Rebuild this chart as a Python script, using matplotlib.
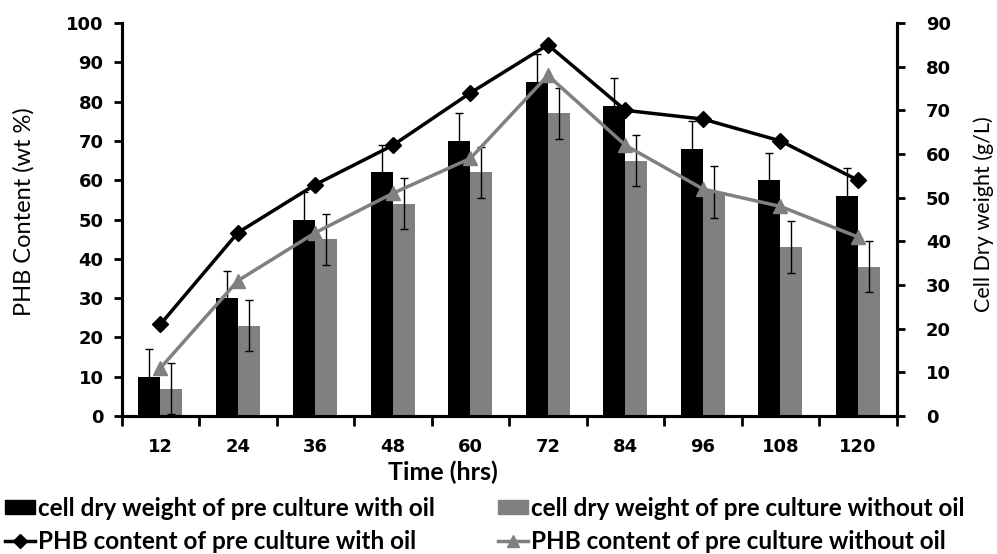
import numpy as np
import matplotlib
matplotlib.use("Agg")
import matplotlib.pyplot as plt
from matplotlib.ticker import MultipleLocator, FixedLocator

# data
hours = ["12", "24", "36", "48", "60", "72", "84", "96", "108", "120"]
cdw_oil = [10, 30, 50, 62, 70, 85, 79, 68, 60, 56]
cdw_no_oil = [7, 23, 45, 54, 62, 77, 65, 57, 43, 38]
err_oil = [7, 7, 7, 7, 7, 7, 7, 7, 7, 7]
err_no_oil = [6.5, 6.5, 6.5, 6.5, 6.5, 6.5, 6.5, 6.5, 6.5, 6.5]
phb_oil = [21, 42, 53, 62, 74, 85, 70, 68, 63, 54]
phb_no_oil = [11, 31, 42, 51, 59, 78, 62, 52, 48, 41]

grey = "#808080"
label_font = "Lato"

fig = plt.figure(figsize=(9.97, 5.54), dpi=100)
ax = fig.add_axes([0.122, 0.249, 0.7774, 0.7095])
ax2 = ax.twinx()

x = np.arange(len(hours))
w = 0.284
ax.bar(x - w / 2, cdw_oil, w, color="black", zorder=2)
ax.bar(x + w / 2, cdw_no_oil, w, color=grey, zorder=2)
ax.errorbar(x - w / 2, cdw_oil, yerr=err_oil, fmt="none", ecolor="black",
            elinewidth=1, capsize=3, capthick=1, zorder=3)
ax.errorbar(x + w / 2, cdw_no_oil, yerr=err_no_oil, fmt="none", ecolor="black",
            elinewidth=1, capsize=3, capthick=1, zorder=3)

ax2.plot(x, phb_oil, color="black", lw=2.5, marker="D", ms=8, zorder=4)
ax2.plot(x, phb_no_oil, color=grey, lw=2.5, marker="^", ms=10, zorder=4)

ax.set_xlim(-0.5, len(hours) - 0.5)
ax.set_ylim(0, 100)
ax2.set_ylim(0, 90)
ax.yaxis.set_major_locator(MultipleLocator(10))
ax2.yaxis.set_major_locator(MultipleLocator(10))

ax.set_xticks(x)
ax.set_xticklabels(hours)
ax.xaxis.set_minor_locator(FixedLocator(np.arange(-0.5, len(hours), 1)))
ax.tick_params(axis="x", which="major", length=0, pad=16)
ax.tick_params(axis="x", which="minor", length=7, width=2, direction="out")
ax.tick_params(axis="y", length=6, width=2, direction="out", pad=7)
ax2.tick_params(axis="y", length=6, width=2, direction="out", pad=15)

for a in (ax, ax2):
    for lab in a.get_xticklabels() + a.get_yticklabels():
        lab.set_fontfamily("DejaVu Sans")
        lab.set_fontweight("bold")
        lab.set_fontsize(13)
    a.spines["top"].set_visible(False)
    for s in ("left", "right", "bottom"):
        a.spines[s].set_linewidth(2.2)

ax.set_ylabel("PHB Content (wt %)", family=label_font, fontsize=17)
ax.yaxis.set_label_coords(-0.112, 0.52)
ax2.set_ylabel("Cell Dry weight (g/L)", family=label_font, fontsize=15.5)
ax2.yaxis.set_label_coords(1.099, 0.515)
fig.text(0.444, 0.147, "Time (hrs)", family=label_font, weight="bold",
         fontsize=18, ha="center", va="center")

h_bar1 = plt.Rectangle((0, 0), 1, 1, color="black")
h_bar2 = plt.Rectangle((0, 0), 1, 1, color=grey)
h_ln1 = plt.Line2D([], [], color="black", lw=2.5, marker="D", ms=7)
h_ln2 = plt.Line2D([], [], color=grey, lw=2.5, marker="^", ms=9)
fig.legend([h_bar1, h_ln1, h_bar2, h_ln2],
           ["cell dry weight of pre culture with oil",
            "PHB content of pre culture with oil",
            "cell dry weight of pre culture without oil",
            "PHB content of pre culture without oil"],
           loc="upper left", bbox_to_anchor=(0.005, 0.103), ncol=2,
           frameon=False, handlelength=1.25, handleheight=0.5, handletextpad=0.1,
           columnspacing=2.6, labelspacing=0.42, borderaxespad=0, borderpad=0,
           prop=dict(family=label_font, size=17.5, weight="bold"))

fig.savefig("out.png", dpi=100)
